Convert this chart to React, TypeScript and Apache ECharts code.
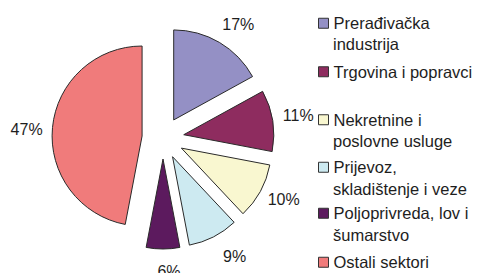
import React, { useEffect, useRef } from "react";
import * as echarts from "echarts";

const categories = [
  "Prerađivačka industrija",
  "Trgovina i popravci",
  "Nekretnine i poslovne usluge",
  "Prijevoz, skladištenje i veze",
  "Poljoprivreda, lov i šumarstvo",
  "Ostali sektori",
];
const shares = [17, 11, 10, 9, 6, 47];
const colors = ["#9490c5", "#8e2c5f", "#f9f7d0", "#cdeaf1", "#5c1a5e", "#f07b7b"];
// legend text split into the lines shown in the reference
const legendFirstLines = [
  "Prerađivačka",
  "Trgovina i popravci",
  "Nekretnine i",
  "Prijevoz,",
  "Poljoprivreda, lov i",
  "Ostali sektori",
];
const legendSecondLines = ["industrija", "", "poslovne usluge", "skladištenje i veze", "šumarstvo", ""];
const legendFirstY = [23, 71.5, 119.5, 167, 213, 262];
const legendSecondY = [44, 0, 141, 189, 235, 0];
const labelNudge = [
  [4, 7],
  [-3, -1],
  [-2, -6],
  [8, -6],
  [6, -7],
  [3, 5],
];

const CENTER = [163, 138];
const OFFSET = 21;
const FONT = "'Liberation Sans', Arial, sans-serif";
const LEGEND_FS = 16.5;

export default function App() {
  const ref = useRef<HTMLDivElement>(null);
  useEffect(() => {
    if (!ref.current) return;
    const chart = echarts.init(ref.current, undefined, { renderer: "svg" });

    const pieData = categories.map((name, i) => ({
      name,
      value: shares[i],
      selected: true,
      itemStyle: { color: colors[i] },
    }));
    const labelData = categories.map((name, i) => ({
      name,
      value: shares[i],
      selected: true,
    }));

    const textStyle = {
      fontSize: LEGEND_FS,
      lineHeight: LEGEND_FS,
      fontFamily: FONT,
      color: "#1e1e1e",
    };
    const legends: any[] = [];
    categories.forEach((name, i) => {
      legends.push({
        data: [name],
        orient: "vertical",
        left: 318,
        top: legendFirstY[i] - LEGEND_FS / 2,
        padding: 0,
        itemWidth: 10,
        itemHeight: 10,
        icon: "rect",
        selectedMode: false,
        formatter: () => legendFirstLines[i],
        itemStyle: { borderColor: "#333", borderWidth: 1 },
        textStyle,
      });
      if (legendSecondLines[i]) {
        legends.push({
          data: [name],
          orient: "vertical",
          left: 318,
          top: legendSecondY[i] - LEGEND_FS / 2,
          padding: 0,
          itemWidth: 10,
          itemHeight: 10,
          icon: "rect",
          selectedMode: false,
          formatter: () => legendSecondLines[i],
          itemStyle: { opacity: 0, borderWidth: 0 },
          textStyle,
        });
      }
    });

    chart.setOption({
      animation: false,
      backgroundColor: "#ffffff",
      legend: legends,
      series: [
        {
          type: "pie",
          center: CENTER,
          radius: 90,
          startAngle: 90,
          clockwise: true,
          selectedMode: "multiple",
          selectedOffset: OFFSET,
          avoidLabelOverlap: false,
          label: { show: false },
          labelLine: { show: false },
          itemStyle: { borderColor: "#2a2a2a", borderWidth: 1 },
          select: { itemStyle: { borderColor: "#2a2a2a", borderWidth: 1 } },
          emphasis: { disabled: true },
          data: pieData,
        },
        {
          type: "pie",
          center: CENTER,
          radius: [104, 128],
          startAngle: 90,
          clockwise: true,
          silent: true,
          selectedMode: "multiple",
          selectedOffset: OFFSET,
          avoidLabelOverlap: false,
          itemStyle: { color: "rgba(0,0,0,0)", borderWidth: 0 },
          select: { itemStyle: { color: "rgba(0,0,0,0)", borderWidth: 0 } },
          emphasis: { disabled: true },
          labelLine: { show: false },
          label: {
            show: true,
            position: "inside",
            formatter: "{c}%",
            fontSize: 16,
            fontFamily: FONT,
            color: "#1e1e1e",
          },
          labelLayout: (params: any) => ({
            dx: labelNudge[params.dataIndex][0],
            dy: labelNudge[params.dataIndex][1],
          }),
          data: labelData,
        },
      ],
    });
    return () => chart.dispose();
  }, []);

  return (
    <div
      ref={ref}
      style={{ position: "fixed", left: 0, top: 0, width: 479, height: 273, background: "#fff" }}
    />
  );
}
